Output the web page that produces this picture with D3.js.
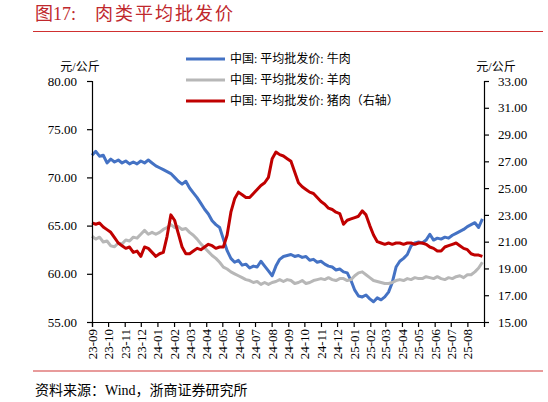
<!DOCTYPE html>
<html>
<head>
<meta charset="utf-8">
<script src="https://cdn.jsdelivr.net/npm/d3@7"></script>
<style>
  body { margin: 0; background: #fff; }
  text { font-family: "Liberation Serif", "Times New Roman", "Noto Sans CJK SC", serif; }
  .cjk { font-family: "Liberation Serif", "Noto Sans CJK SC", sans-serif; }
  .axis path, .axis line { stroke: #000; stroke-width: 1.2; }
  .axis text { font-size: 13px; fill: #000; }
</style>
</head>
<body>
<script>
// weekly readings, first one on 2023-09-01
var startDate = "2023-09-01";
var monthLabels = ["23-09","23-10","23-11","23-12","24-01","24-02","24-03","24-04","24-05","24-06","24-07","24-08",
  "24-09","24-10","24-11","24-12","25-01","25-02","25-03","25-04","25-05","25-06","25-07","25-08"];
var leftTicks = [55, 60, 65, 70, 75, 80];
var rightTicks = [15, 17, 19, 21, 23, 25, 27, 29, 31, 33];
var seriesNames = ["中国: 平均批发价: 牛肉", "中国: 平均批发价: 羊肉", "中国: 平均批发价: 猪肉（右轴）"];

var beef = [72.3,72.7,72.2,72.3,71.5,71.9,71.6,71.8,71.5,71.7,71.4,71.6,71.4,71.7,71.5,71.8,71.5,71.2,71.0,70.8,
  70.6,70.4,70.0,69.6,69.3,69.6,68.9,68.4,67.9,67.3,66.7,66.2,65.5,65.1,64.8,63.6,62.4,61.6,61.2,61.4,
  60.9,61.0,60.6,60.8,60.7,61.3,60.8,60.3,59.8,60.8,61.5,61.8,61.9,62.0,61.8,61.9,61.7,61.8,61.4,61.5,
  61.2,61.3,61.0,60.8,60.7,60.4,60.5,60.2,60.1,59.3,58.3,57.7,57.6,57.8,57.4,57.1,57.5,57.3,57.6,58.1,
  59.1,60.7,61.3,61.6,62.0,62.9,63.2,63.3,63.2,63.5,64.1,63.5,63.7,63.6,63.8,63.7,64.0,64.2,64.4,64.6,
  64.9,65.1,65.3,64.8,65.7];
var mutton = [63.9,63.6,63.8,63.3,63.4,62.9,62.8,63.2,63.1,63.5,63.4,63.8,63.7,64.1,64.5,64.1,64.3,64.1,64.3,64.6,
  64.8,65.1,64.8,64.9,64.6,64.7,64.3,64.0,63.6,63.1,62.7,62.3,61.9,61.6,61.2,60.7,60.5,60.2,60.0,59.8,
  59.6,59.4,59.3,59.1,59.2,58.9,59.1,58.9,59.1,59.2,59.4,59.2,59.4,59.3,59.0,59.1,59.3,59.0,59.1,59.3,
  59.4,59.5,59.4,59.6,59.4,59.3,59.5,59.5,59.3,59.4,59.8,60.1,60.2,59.9,59.6,59.3,59.2,59.1,59.0,59.0,
  59.1,59.3,59.4,59.3,59.5,59.4,59.6,59.5,59.5,59.7,59.6,59.5,59.7,59.5,59.4,59.6,59.5,59.7,59.8,59.6,
  59.9,59.9,60.2,60.6,61.2];
var pork = [22.4,22.3,22.4,22.1,21.9,21.7,21.3,20.9,20.7,20.5,20.6,20.2,20.3,19.9,20.6,20.5,20.2,19.9,20.1,20.2,
  21.4,23.0,22.6,21.6,20.6,20.1,20.1,20.3,20.5,20.4,20.6,20.8,20.7,20.5,20.6,20.6,21.5,23.2,24.2,24.7,
  24.5,24.3,24.3,24.6,24.9,25.2,25.4,25.8,27.2,27.7,27.5,27.4,27.2,27.0,26.2,25.4,25.1,24.9,24.7,24.6,
  24.3,24.0,23.8,23.5,23.4,23.2,23.1,22.3,22.6,22.7,22.8,22.9,23.3,23.0,22.2,21.5,21.0,20.9,20.8,20.9,
  20.8,20.9,20.9,20.8,20.9,20.9,20.8,20.9,20.9,20.8,20.6,20.5,20.3,20.3,20.6,20.7,20.8,20.9,20.7,20.5,
  20.4,20.1,20.0,20.0,19.9];

var colors = ["#4472c4", "#b7b7b7", "#c00000"];

var W = 548, H = 402;
var plot = { left: 92, right: 484, top: 81, bottom: 322 };

var svg = d3.select("body").append("svg")
    .attr("width", W)
    .attr("height", H);

var parse = d3.timeParse("%Y-%m-%d");
var t0 = parse(startDate);
var dates = beef.map(function(d, i) { return d3.timeDay.offset(t0, 7 * i); });
var tickDates = monthLabels.map(function(m) { return parse("20" + m + "-01"); });

var x = d3.scaleTime()
    .domain([t0, d3.timeMonth.offset(tickDates[tickDates.length - 1], 1)])
    .range([plot.left, plot.right]);
var yL = d3.scaleLinear().domain([55, 80]).range([plot.bottom, plot.top]);
var yR = d3.scaleLinear().domain([15, 33]).range([plot.bottom, plot.top]);

// title + rules
svg.append("text").attr("class", "cjk")
  .attr("x", 35).attr("y", 20)
  .attr("font-size", 18).attr("fill", "#c0282d")
  .text("图17:");
svg.append("text").attr("class", "cjk")
  .attr("x", 95).attr("y", 20)
  .attr("font-size", 18).attr("fill", "#c0282d")
  .attr("letter-spacing", 2)
  .text("肉类平均批发价");
svg.append("line").attr("x1", 33).attr("x2", 543).attr("y1", 31.5).attr("y2", 31.5)
  .attr("stroke", "#d03030").attr("stroke-width", 1.2);
svg.append("line").attr("x1", 33).attr("x2", 543).attr("y1", 371).attr("y2", 371)
  .attr("stroke", "#e07a7a").attr("stroke-width", 1.5);
svg.append("text").attr("class", "cjk")
  .attr("x", 35).attr("y", 395)
  .attr("font-size", 14).attr("fill", "#000")
  .text("资料来源：Wind，浙商证券研究所");

// units
svg.append("text").attr("class", "cjk").attr("x", 80).attr("y", 71)
  .attr("text-anchor", "middle").attr("font-size", 12).text("元/公斤");
svg.append("text").attr("class", "cjk").attr("x", 496).attr("y", 71)
  .attr("text-anchor", "middle").attr("font-size", 12).text("元/公斤");

// lines
var series = [
  { vals: beef, y: yL },
  { vals: mutton, y: yL },
  { vals: pork, y: yR }
];
series.forEach(function(s, i) {
  var line = d3.line()
      .x(function(d, j) { return x(dates[j]); })
      .y(function(d) { return s.y(d); });
  svg.append("path")
    .datum(s.vals)
    .attr("d", line)
    .attr("fill", "none")
    .attr("stroke", colors[i])
    .attr("stroke-width", 3)
    .attr("stroke-linejoin", "round");
});

// axes
svg.append("g").attr("class", "axis")
  .attr("transform", "translate(" + plot.left + ",0)")
  .call(d3.axisLeft(yL).tickValues(leftTicks).tickSizeOuter(0).tickSize(5).tickPadding(10)
    .tickFormat(d3.format(".2f")));

svg.append("g").attr("class", "axis")
  .attr("transform", "translate(" + plot.right + ",0)")
  .call(d3.axisRight(yR).tickValues(rightTicks).tickSizeOuter(0).tickSize(5).tickPadding(9)
    .tickFormat(d3.format(".2f")));

var xAxis = svg.append("g").attr("class", "axis")
  .attr("transform", "translate(0," + plot.bottom + ")")
  .call(d3.axisBottom(x).tickValues(tickDates).tickSizeOuter(0).tickSize(5)
    .tickFormat(function(d, i) { return monthLabels[i]; }));
xAxis.selectAll("text")
  .attr("transform", "rotate(-90)")
  .attr("text-anchor", "end")
  .attr("x", -7).attr("y", 0)
  .attr("dy", "0.35em");

// legend
var lg = svg.append("g");
seriesNames.forEach(function(n, i) {
  var yy = 59 + i * 21;
  lg.append("line").attr("x1", 186).attr("x2", 225).attr("y1", yy).attr("y2", yy)
    .attr("stroke", colors[i]).attr("stroke-width", 3);
  lg.append("text").attr("class", "cjk").attr("x", 230).attr("y", yy + 4)
    .attr("font-size", 12).text(n);
});
</script>
</body>
</html>
